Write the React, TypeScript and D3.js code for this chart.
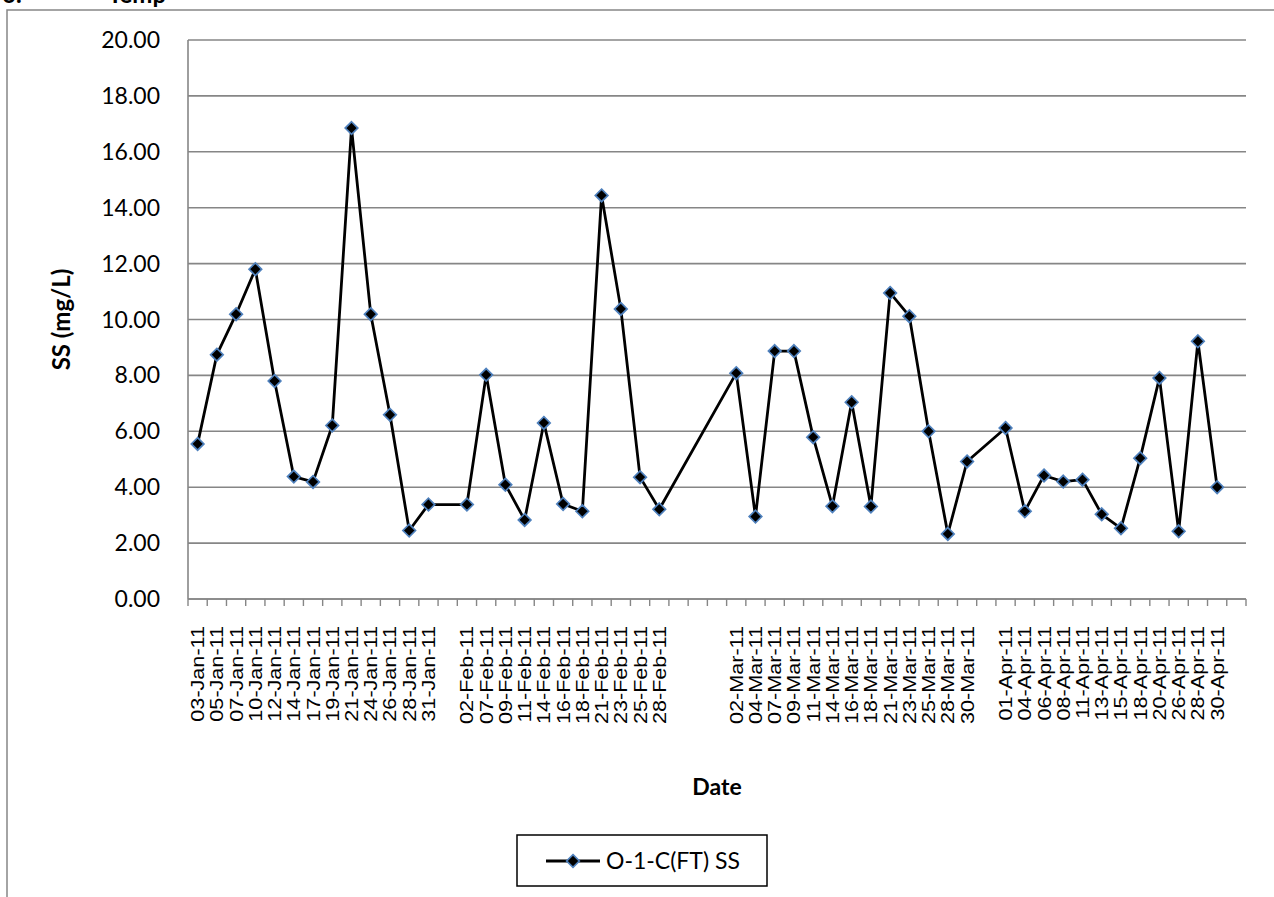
import React from "react";
import * as d3 from "d3";

const dates: string[] = [
  "03-Jan-11", "05-Jan-11", "07-Jan-11", "10-Jan-11", "12-Jan-11", "14-Jan-11", "17-Jan-11",
  "19-Jan-11", "21-Jan-11", "24-Jan-11", "26-Jan-11", "28-Jan-11", "31-Jan-11", "",
  "02-Feb-11", "07-Feb-11", "09-Feb-11", "11-Feb-11", "14-Feb-11", "16-Feb-11", "18-Feb-11",
  "21-Feb-11", "23-Feb-11", "25-Feb-11", "28-Feb-11", "", "", "",
  "02-Mar-11", "04-Mar-11", "07-Mar-11", "09-Mar-11", "11-Mar-11", "14-Mar-11", "16-Mar-11",
  "18-Mar-11", "21-Mar-11", "23-Mar-11", "25-Mar-11", "28-Mar-11", "30-Mar-11", "",
  "01-Apr-11", "04-Apr-11", "06-Apr-11", "08-Apr-11", "11-Apr-11", "13-Apr-11", "15-Apr-11",
  "18-Apr-11", "20-Apr-11", "26-Apr-11", "28-Apr-11", "30-Apr-11", "",
];

const ssValues: (number | null)[] = [
  5.55, 8.74, 10.19, 11.8, 7.8, 4.38, 4.19, 6.21, 16.85, 10.19, 6.59, 2.45, 3.38, null,
  3.38, 8.02, 4.09, 2.83, 6.3, 3.4, 3.14, 14.44, 10.38, 4.36, 3.21, null, null, null,
  8.08, 2.95, 8.87, 8.87, 5.79, 3.32, 7.04, 3.31, 10.95, 10.12, 6.0, 2.33, 4.92, null,
  6.12, 3.14, 4.42, 4.2, 4.27, 3.03, 2.53, 5.04, 7.91, 2.42, 9.22, 4.0, null,
];

const yTicks: number[] = [0, 2, 4, 6, 8, 10, 12, 14, 16, 18, 20];

const seriesName = "O-1-C(FT) SS";
const yTitle = "SS (mg/L)";
const xTitle = "Date";
const headingNum = "6.";
const headingWord = "Temp";

const W = 1274;
const H = 897;
const plotL = 188;
const plotR = 1246;
const plotT = 40;
const plotB = 599;

const GRID = "#868686";
const MARK_STROKE = "#4F81BD";
const FONT = "Lato, 'Open Sans', sans-serif";

function Diamond({ x, y, r }: { x: number; y: number; r: number }) {
  const d = `M${x},${y - r}L${x + r},${y}L${x},${y + r}L${x - r},${y}Z`;
  return <path d={d} fill="#000" stroke={MARK_STROKE} strokeWidth={1.7} />;
}

export default function App() {
  const idx = dates.map((_, i) => i);
  const x = d3.scaleBand<number>().domain(idx).range([plotL, plotR]).padding(0);
  const y = d3.scaleLinear().domain([0, 20]).range([plotB, plotT]);
  const bw = x.bandwidth();
  const cx = (i: number) => (x(i) as number) + bw / 2;

  const pts = ssValues
    .map((v, i) => ({ i, v }))
    .filter((p) => p.v !== null) as { i: number; v: number }[];

  const line = d3
    .line<{ i: number; v: number }>()
    .x((p) => cx(p.i))
    .y((p) => y(p.v));

  const boundaries = d3.range(dates.length + 1).map((k) => plotL + k * bw);

  return (
    <svg
      width={W}
      height={H}
      style={{ position: "absolute", left: 0, top: 0, background: "#fff" }}
      fontFamily={FONT}
    >
      {/* heading of the page, cut off by the top edge as in the source */}
      <text x={2} y={3} fontSize={24} fontWeight="bold" fill="#000">
        {headingNum}
      </text>
      <text x={108} y={3} fontSize={24} fontWeight="bold" fill="#000">
        {headingWord}
      </text>

      {/* outer chart border */}
      <rect x={7} y={10} width={W + 50} height={H + 50} fill="none" stroke={GRID} strokeWidth={1.5} />

      {/* gridlines */}
      {yTicks.map((t) => (
        <line key={"g" + t} x1={plotL} x2={plotR} y1={y(t)} y2={y(t)} stroke={GRID} strokeWidth={1.6} />
      ))}

      {/* y axis */}
      <line x1={plotL} x2={plotL} y1={plotT} y2={plotB} stroke={GRID} strokeWidth={1.6} />
      {yTicks.map((t) => (
        <text
          key={"yl" + t}
          x={160}
          y={y(t)}
          dy="0.35em"
          textAnchor="end"
          fontSize={23}
          fill="#000"
        >
          {t.toFixed(2)}
        </text>
      ))}

      {/* x axis */}
      <line x1={plotL} x2={plotR} y1={plotB} y2={plotB} stroke={GRID} strokeWidth={1.6} />
      {boundaries.map((bx, k) => (
        <line key={"t" + k} x1={bx} x2={bx} y1={plotB} y2={plotB + 7} stroke={GRID} strokeWidth={1.4} />
      ))}
      {dates.map((d, i) =>
        d ? (
          <text
            key={"xl" + i}
            transform={`translate(${cx(i)},${626}) rotate(-90) scale(1.2,1)`}
            dy="0.36em"
            textAnchor="end"
            fontSize={18}
            fontFamily="'Liberation Sans', Arial, sans-serif"
            fill="#000"
          >
            {d}
          </text>
        ) : null
      )}

      {/* axis titles */}
      <text
        transform={`translate(62,${(plotT + plotB) / 2}) rotate(-90)`}
        dy="0.35em"
        textAnchor="middle"
        fontSize={24}
        fontWeight="bold"
        fill="#000"
      >
        {yTitle}
      </text>
      <text x={(plotL + plotR) / 2} y={787} dy="0.35em" textAnchor="middle" fontSize={23} fontWeight="bold" fill="#000">
        {xTitle}
      </text>

      {/* series */}
      <path d={line(pts) || ""} fill="none" stroke="#000" strokeWidth={2.8} strokeLinejoin="round" />
      {pts.map((p) => (
        <Diamond key={"m" + p.i} x={cx(p.i)} y={y(p.v)} r={6.3} />
      ))}

      {/* legend */}
      <rect x={517} y={835} width={250} height={51} fill="#fff" stroke="#000" strokeWidth={1.5} />
      <line x1={546} x2={600} y1={861} y2={861} stroke="#000" strokeWidth={2.8} />
      <Diamond x={573} y={861} r={6.3} />
      <text x={606} y={861} dy="0.35em" fontSize={23} fill="#000">
        {seriesName}
      </text>
    </svg>
  );
}
